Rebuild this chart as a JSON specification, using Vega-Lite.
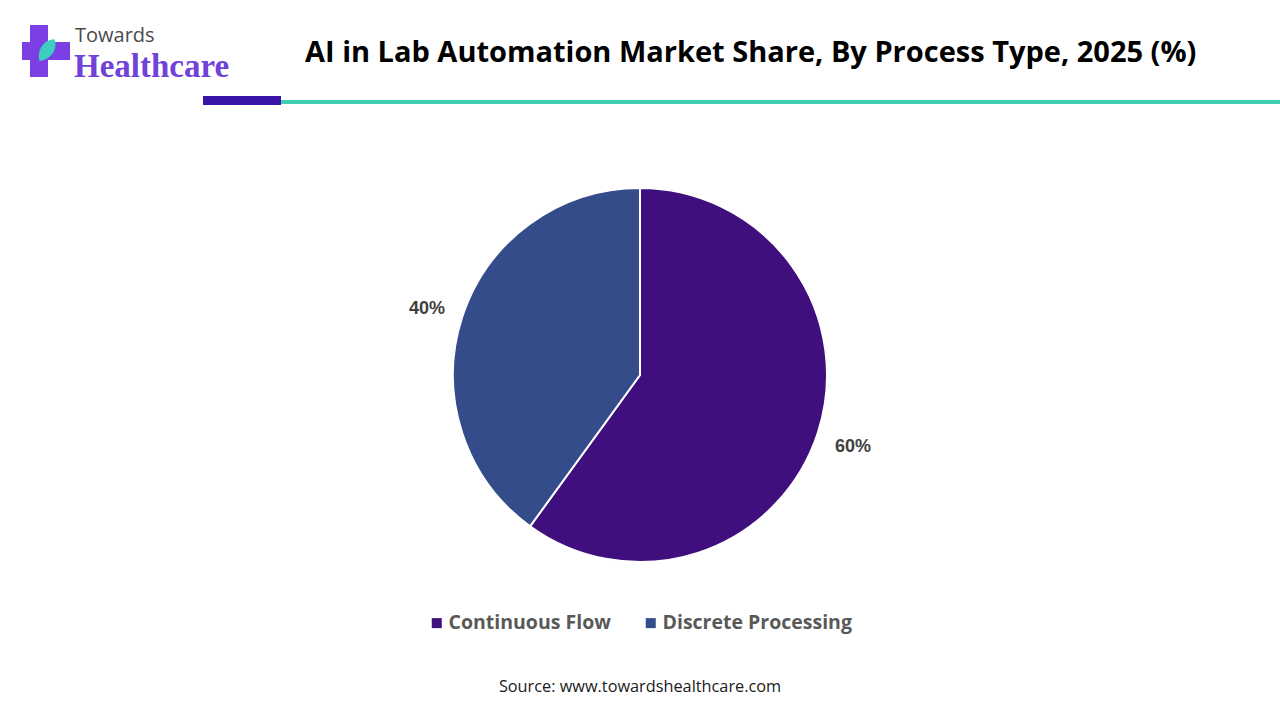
{
  "$schema": "https://vega.github.io/schema/vega-lite/v6.json",
  "width": 1280,
  "height": 720,
  "autosize": {"type": "none"},
  "padding": 0,
  "background": "white",
  "config": {"view": {"stroke": null}},
  "title": {
    "text": "AI in Lab Automation Market Share, By Process Type, 2025 (%)",
    "font": "Open Sans",
    "fontSize": 29,
    "fontWeight": "bold",
    "color": "#000000",
    "anchor": "start",
    "dx": 305,
    "offset": -68
  },
  "layer": [
    {
      "data": {"values": [
        {"segment": "Continuous Flow", "share": 60, "label": "60%"},
        {"segment": "Discrete Processing", "share": 40, "label": "40%"}
      ]},
      "layer": [
        {
          "mark": {"type": "arc", "outerRadius": 187, "stroke": "white", "strokeWidth": 2, "yOffset": 15},
          "encoding": {
            "theta": {"field": "share", "type": "quantitative", "stack": true},
            "color": {
              "field": "segment",
              "type": "nominal",
              "scale": {"domain": ["Continuous Flow", "Discrete Processing"], "range": ["#3F0F7D", "#344C8A"]},
              "legend": {
                "title": null,
                "orient": "none",
                "legendX": 427,
                "legendY": 613,
                "direction": "horizontal",
                "symbolType": "square",
                "symbolSize": 100,
                "symbolStrokeWidth": 0,
                "labelFont": "Open Sans",
                "labelFontSize": 19.5,
                "labelFontWeight": "bold",
                "labelColor": "#595959",
                "labelOffset": 2,
                "columnPadding": 30,
                "labelLimit": 300
              }
            }
          }
        },
        {
          "mark": {"type": "text", "radius": 224, "yOffset": 18, "font": "Liberation Sans", "fontSize": 18, "fontWeight": "bold", "color": "#404040"},
          "encoding": {
            "theta": {"field": "share", "type": "quantitative", "stack": true},
            "order": {"field": "segment", "sort": "ascending"},
            "text": {"field": "label", "type": "nominal"},
            "detail": {"field": "segment"}
          }
        }
      ]
    },
    {
      "data": {"values": [{"part": "header accent"}]},
      "layer": [
        {"mark": {"type": "rect", "x": 281, "x2": 1280, "y": 100, "y2": 104, "color": "#3ECFB2"}, "encoding": {}},
        {"mark": {"type": "rect", "x": 203, "x2": 281, "y": 96, "y2": 105, "color": "#3A14A8"}, "encoding": {}},
        {"mark": {"type": "rect", "x": 30, "x2": 48, "y": 25, "y2": 77, "color": "#7B3FE4"}, "encoding": {}},
        {"mark": {"type": "rect", "x": 22, "x2": 70, "y": 42, "y2": 60, "color": "#7B3FE4"}, "encoding": {}},
        {"mark": {"type": "point", "x": 47, "y": 50, "shape": "M0,-1 C0.7,-0.5 0.6,0.5 0,1 C-0.6,0.5 -0.7,-0.5 0,-1 Z", "size": 700, "angle": 35, "filled": true, "color": "#3CCFC0", "opacity": 1}, "encoding": {}}
      ]
    },
    {
      "data": {"values": [{"brand": "Towards", "brand2": "Healthcare", "source": "Source: www.towardshealthcare.com"}]},
      "layer": [
        {"mark": {"type": "text", "x": 75, "y": 42, "align": "left", "baseline": "alphabetic", "font": "Open Sans", "fontSize": 20, "color": "#4A4A4A"}, "encoding": {"text": {"field": "brand"}}},
        {"mark": {"type": "text", "x": 74, "y": 77, "align": "left", "baseline": "alphabetic", "font": "Liberation Serif", "fontSize": 33, "fontWeight": "bold", "color": "#7042D8"}, "encoding": {"text": {"field": "brand2"}}},
        {"mark": {"type": "text", "x": 640, "y": 692, "align": "center", "baseline": "alphabetic", "font": "Open Sans", "fontSize": 16.3, "color": "#1A1A1A"}, "encoding": {"text": {"field": "source"}}}
      ]
    }
  ]
}
